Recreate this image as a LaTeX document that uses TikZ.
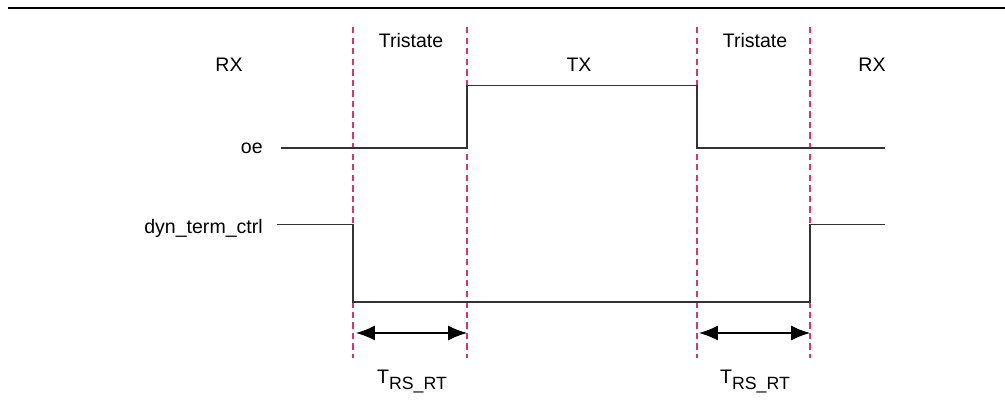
\documentclass[tikz,border=0pt]{standalone}
\usepackage{fontspec}
\setmainfont{Liberation Sans}
\usetikzlibrary{arrows.meta}
\definecolor{markred}{HTML}{E0336B}
\definecolor{wavegray}{HTML}{333333}
\tikzset{
	signal/.style={draw=wavegray, line width=1.1pt},
	marker/.style={draw=markred, line width=0.8pt, dash pattern=on 4.5pt off 3pt},
	span/.style={draw=black, line width=0.8pt, {Latex[length=0.47cm,width=0.37cm]}-{Latex[length=0.47cm,width=0.37cm]}},
	lbl/.style={inner sep=0pt, font=\fontsize{13.9}{16}\selectfont}
}
\newcommand{\trsrt}{T\raisebox{-0.32em}{\fontsize{12.6}{14}\selectfont RS\_RT}}
\begin{document}
\begin{tikzpicture}[x=0.025cm, y=-0.025cm]
		\useasboundingbox (0,0) rectangle (1005,406);
		
		%regola in alto
		\draw[line width=1.5pt] (8,7.7) -- (1005,7.7);
		
		%linee tratteggiate
		\foreach \n/\x in {a/353, b/467, c/697, d/810} {
			\coordinate (top\n) at (\x,27);
			\coordinate (bot\n) at (\x,358);
			\draw[marker] (top\n) -- (bot\n);
		}
		
		%etichette delle fasi
		\node[lbl, anchor=base] (rxl) at (229,72) {RX};
		\node[lbl, anchor=base] (trl) at (411,48) {Tristate};
		\node[lbl, anchor=base] (tx) at (579,72) {TX};
		\node[lbl, anchor=base] (trr) at (755,48) {Tristate};
		\node[lbl, anchor=base] (rxr) at (872,72) {RX};
		
		%segnale oe
		\node[lbl, anchor=base east] (oe) at (263,154) {oe};
		\coordinate (oestart) at (281,148);
		\coordinate (oeend) at (885,148);
		\draw[signal] (oestart) -- (467,148) -- (467,85.5) -- (697,85.5) -- (697,148) -- (oeend);
		
		%segnale dyn_term_ctrl
		\node[lbl, anchor=base east] (dtc) at (263,234) {dyn\_term\_ctrl};
		\coordinate (dtcstart) at (277,224.5);
		\coordinate (dtcend) at (885,224.5);
		\draw[signal] (dtcstart) -- (353,224.5) -- (353,302) -- (810,302) -- (810,224.5) -- (dtcend);
		
		%intervalli
		\coordinate (spanal) at (356,333);
		\coordinate (spanar) at (467,333);
		\coordinate (spanbl) at (699,333);
		\coordinate (spanbr) at (810,333);
		\draw[span] (spanal) -- (spanar);
		\draw[span] (spanbl) -- (spanbr);
		
		\node[lbl, anchor=base] (tleft) at (412,383) {\trsrt};
		\node[lbl, anchor=base] (tright) at (755,383) {\trsrt};
	\end{tikzpicture}
\end{document}
